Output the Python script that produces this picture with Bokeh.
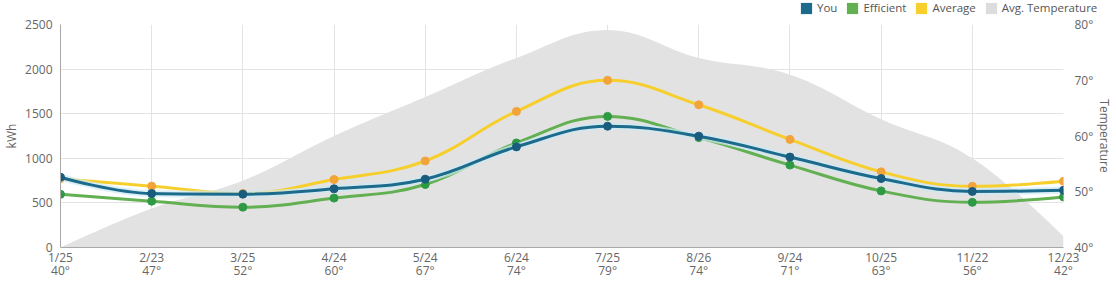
import numpy as np
from bokeh.plotting import figure
from bokeh.models import (Range1d, LinearAxis, FixedTicker, PrintfTickFormatter,
                          Legend, LegendItem)
from bokeh.embed import file_html
from bokeh.resources import INLINE

# ---- data ----
dates = ["1/25", "2/23", "3/25", "4/24", "5/24", "6/24", "7/25", "8/26", "9/24", "10/25", "11/22", "12/23"]
temps = [40, 47, 52, 60, 67, 74, 79, 74, 71, 63, 56, 42]
you = [788, 605, 598, 658, 766, 1128, 1360, 1248, 1014, 773, 628, 642]
efficient = [596, 519, 452, 554, 706, 1172, 1470, 1232, 924, 634, 506, 566]
average = [772, 688, 606, 762, 970, 1526, 1874, 1600, 1212, 848, 686, 743]
series_names = ["You", "Efficient", "Average", "Avg. Temperature"]

FONT = "Open Sans"
xs = list(range(len(dates)))


def spline_controls(x, y, smoothing=1.5):
    n = len(x)
    denom = smoothing + 1
    left = [(x[i], y[i]) for i in range(n)]
    right = [(x[i], y[i]) for i in range(n)]
    for i in range(1, n - 1):
        px, py = x[i], y[i]
        lx, ly = x[i - 1], y[i - 1]
        nx, ny = x[i + 1], y[i + 1]
        lcx = (smoothing * px + lx) / denom
        lcy = (smoothing * py + ly) / denom
        rcx = (smoothing * px + nx) / denom
        rcy = (smoothing * py + ny) / denom
        if rcx != lcx:
            corr = ((rcy - lcy) * (rcx - px)) / (rcx - lcx) + py - rcy
            lcy += corr
            rcy += corr
        if lcy > max(ly, py):
            lcy = max(ly, py); rcy = 2 * py - lcy
        elif lcy < min(ly, py):
            lcy = min(ly, py); rcy = 2 * py - lcy
        if rcy > max(ny, py):
            rcy = max(ny, py); lcy = 2 * py - rcy
        elif rcy < min(ny, py):
            rcy = min(ny, py); lcy = 2 * py - rcy
        left[i] = (lcx, lcy)
        right[i] = (rcx, rcy)
    seg = dict(x0=[], y0=[], x1=[], y1=[], cx0=[], cy0=[], cx1=[], cy1=[])
    for i in range(1, n):
        seg["x0"].append(x[i - 1]); seg["y0"].append(y[i - 1])
        seg["x1"].append(x[i]); seg["y1"].append(y[i])
        seg["cx0"].append(right[i - 1][0]); seg["cy0"].append(right[i - 1][1])
        seg["cx1"].append(left[i][0]); seg["cy1"].append(left[i][1])
    return seg


def sample_path(seg, k=24):
    px, py = [], []
    t = np.linspace(0, 1, k)
    for j in range(len(seg["x0"])):
        a = (1 - t) ** 3; b = 3 * (1 - t) ** 2 * t; c = 3 * (1 - t) * t ** 2; d = t ** 3
        bx = a * seg["x0"][j] + b * seg["cx0"][j] + c * seg["cx1"][j] + d * seg["x1"][j]
        by = a * seg["y0"][j] + b * seg["cy0"][j] + c * seg["cy1"][j] + d * seg["y1"][j]
        if j > 0:
            bx, by = bx[1:], by[1:]
        px.extend(bx.tolist()); py.extend(by.tolist())
    return px, py


COL_YOU, COL_EFF, COL_AVG, COL_TMP = "#1c6a8c", "#62b052", "#f7cf2c", "#e2e2e2"

p = figure(width=1116, height=267, output_backend="svg", toolbar_location=None,
           x_range=Range1d(0, len(dates) - 1), y_range=Range1d(0, 2500),
           min_border_left=60, min_border_right=52, min_border_top=9, min_border_bottom=35)
p.outline_line_color = None
p.background_fill_color = "white"
p.extra_y_ranges = {"temp": Range1d(40, 80)}

# grid
p.xgrid.ticker = FixedTicker(ticks=xs)
p.xgrid.grid_line_color = "#e3e3e3"
p.ygrid.ticker = FixedTicker(ticks=[0, 500, 1000, 1500, 2000, 2500])
p.ygrid.grid_line_color = "#e3e3e3"

# axes
xa = p.xaxis[0]
xa.ticker = FixedTicker(ticks=xs)
xa.major_label_overrides = {i: f"{d}\n{t}°" for i, (d, t) in enumerate(zip(dates, temps))}
xa.major_tick_line_color = None
xa.minor_tick_line_color = None
xa.major_tick_out = 0
xa.major_tick_in = 0
xa.minor_tick_out = 0
xa.axis_line_color = "#a8a8a8"
xa.major_label_text_font = FONT
xa.major_label_text_font_size = "12px"
xa.major_label_text_color = "#666666"
xa.major_label_text_line_height = 0.8
xa.major_label_standoff = 1

ya = p.yaxis[0]
ya.ticker = FixedTicker(ticks=[0, 500, 1000, 1500, 2000, 2500])
ya.axis_label = "kWh"
ya.axis_label_text_font = FONT
ya.axis_label_text_font_style = "normal"
ya.axis_label_text_font_size = "12px"
ya.axis_label_text_color = "#666666"
ya.axis_label_standoff = 2
ya.major_tick_line_color = None
ya.minor_tick_line_color = None
ya.major_tick_out = 0
ya.major_tick_in = 0
ya.minor_tick_out = 0
ya.axis_line_color = "#a8a8a8"
ya.major_label_text_font = FONT
ya.major_label_text_font_size = "12px"
ya.major_label_text_color = "#666666"
ya.major_label_standoff = 8

ra = LinearAxis(y_range_name="temp", ticker=FixedTicker(ticks=[40, 50, 60, 70, 80]),
                formatter=PrintfTickFormatter(format="%d°"))
ra.axis_label = "Temperature"
ra.axis_label_text_font = FONT
ra.axis_label_text_font_style = "normal"
ra.axis_label_text_font_size = "12px"
ra.axis_label_text_color = "#666666"
ra.axis_label_standoff = 0
ra.axis_line_color = None
ra.major_tick_line_color = None
ra.minor_tick_line_color = None
ra.major_tick_out = 0
ra.major_tick_in = 0
ra.minor_tick_out = 0
ra.major_label_text_font = FONT
ra.major_label_text_font_size = "12px"
ra.major_label_text_color = "#666666"
ra.major_label_standoff = 11
p.add_layout(ra, "right")

# temperature area
tseg = spline_controls(xs, temps)
ax, ay = sample_path(tseg)
p.varea(x=ax, y1=[40] * len(ax), y2=ay, y_range_name="temp", fill_color=COL_TMP)

# series lines
def draw_series(vals, line_color, marker_color, halo=None):
    seg = spline_controls(xs, vals)
    if halo:
        p.bezier(**seg, line_color=halo, line_width=7, line_alpha=0.7)
    p.bezier(**seg, line_color=line_color, line_width=3)
    p.scatter(xs, vals, size=8, fill_color=marker_color, line_color=marker_color)

draw_series(average, COL_AVG, "#f2a43a")
draw_series(efficient, COL_EFF, "#2f9a44")
draw_series(you, COL_YOU, "#1a5c7e", halo="#cdeaf5")

# legend strip (separate root so the legend is not clipped by the plot frame)
lf = figure(width=1116, height=15, output_backend="svg", toolbar_location=None,
            x_range=Range1d(0, 1), y_range=Range1d(0, 1), x_axis_type=None, y_axis_type=None,
            min_border=0, min_border_left=0, min_border_right=0, min_border_top=0, min_border_bottom=0)
lf.outline_line_color = None
lf.xgrid.visible = False
lf.ygrid.visible = False
sw = [lf.quad(left=[-3], right=[-2], top=[-2], bottom=[-3], fill_color=c, line_color=None)
      for c in (COL_YOU, COL_EFF, COL_AVG, "#dcdcdc")]
legend = Legend(items=[LegendItem(label=n, renderers=[r]) for n, r in zip(series_names, sw)],
                orientation="horizontal", location=(799, 0),
                glyph_width=14, glyph_height=14, label_standoff=4, spacing=8,
                padding=0, margin=0, border_line_color=None, background_fill_alpha=0,
                label_text_font=FONT, label_text_font_size="11.5px", label_text_color="#555555",
                label_height=14)
lf.add_layout(legend, "center")

open("out.html", "w").write(file_html([lf, p], INLINE))
